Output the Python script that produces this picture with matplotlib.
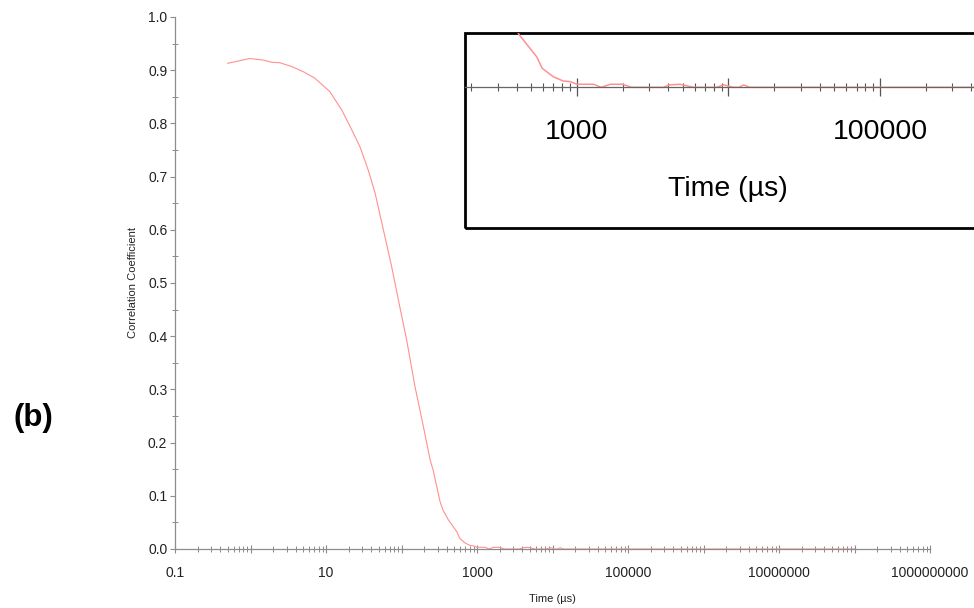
import numpy as np
import matplotlib.pyplot as plt
from matplotlib.ticker import LogLocator, FuncFormatter, MultipleLocator, NullFormatter
from matplotlib.patches import Rectangle

plt.switch_backend('agg')
plt.rcParams['font.family'] = ['Liberation Sans', 'DejaVu Sans']

# correlation curve, time in microseconds
time_us = [0.5, 0.98, 1.48, 1.9, 2.45, 3.5, 5.2, 7.1, 11.2, 16.2, 21.9, 28.2, 36.3,
           44.7, 57.5, 74, 95, 117, 151, 195, 240, 263, 324, 355, 417, 543, 589,
           700, 813, 902, 1000, 1288, 1445, 1660, 1995, 2291, 3715, 4074, 4786,
           5888, 8318, 9333, 10715, 11749, 12589, 13804, 1e8]
corr = [0.913, 0.922, 0.919, 0.915, 0.914, 0.907, 0.896, 0.885, 0.860, 0.825, 0.788,
        0.756, 0.712, 0.669, 0.600, 0.531, 0.455, 0.393, 0.305, 0.230, 0.167, 0.148,
        0.089, 0.073, 0.055, 0.032, 0.020, 0.011, 0.0066, 0.006, 0.0032, 0.0032, 0.0,
        0.0032, 0.0032, 0.0, 0.0, 0.0025, 0.0032, 0.0, 0.0, 0.0025, 0.0, 0.0, 0.0025,
        0.0, 0.0]

line_color = '#ff9090'
axis_color = '#8c8c8c'
text_color = '#222222'


def odd_decades(x, pos):
    e = int(round(np.log10(x)))
    if e % 2 != 1:
        return ''
    if e < 0:
        return '0.1'
    return '%d' % round(x)


W, H = 974, 608
fig = plt.figure(figsize=(W / 100, H / 100), dpi=100)

# main axes
ax = fig.add_axes([175 / W, 1 - 549 / H, (930 - 175) / W, (549 - 17) / H])
ax.plot(time_us, corr, color=line_color, lw=0.8)
ax.set_xscale('log')
ax.set_xlim(0.1, 1e9)
ax.set_ylim(0, 1.0)
for s in ['top', 'right']:
    ax.spines[s].set_visible(False)
for s in ['left', 'bottom']:
    ax.spines[s].set_color(axis_color)
    ax.spines[s].set_linewidth(0.9)

ax.xaxis.set_major_locator(LogLocator(base=10, numticks=20))
ax.xaxis.set_minor_locator(LogLocator(base=10, subs=np.arange(2, 10), numticks=20))
ax.xaxis.set_major_formatter(FuncFormatter(odd_decades))
ax.xaxis.set_minor_formatter(NullFormatter())
ax.yaxis.set_major_locator(MultipleLocator(0.1))
ax.yaxis.set_minor_locator(MultipleLocator(0.05))
ax.yaxis.set_major_formatter(FuncFormatter(lambda v, p: '%.1f' % v))

ax.tick_params(axis='x', which='major', direction='inout', length=6, width=0.8,
               color=axis_color, labelsize=10, labelcolor=text_color, pad=9)
ax.tick_params(axis='x', which='minor', direction='inout', length=4, width=0.7,
               color=axis_color)
ax.tick_params(axis='y', which='major', direction='out', length=3.5, width=0.8,
               color=axis_color, labelsize=10, labelcolor=text_color, pad=2)
ax.tick_params(axis='y', which='minor', direction='inout', length=5, width=0.7,
               color=axis_color)

ax.set_xlabel('Time (µs)', fontsize=8, color=text_color, labelpad=10)
ax.set_ylabel('Correlation Coefficient', fontsize=8, color=text_color, labelpad=7)

fig.text(33 / W, 1 - 418 / H, '(b)', fontsize=22.5, fontweight='bold',
         ha='center', va='center', color='black')

# zoomed inset near the baseline
ax_in = fig.add_axes([465 / W, 1 - 228 / H, (991 - 465) / W, (228 - 33) / H])
ax_in.plot(time_us, corr, color=line_color, lw=1.1)
ax_in.set_xscale('log')
ax_in.set_xlim(10 ** 2.261, 10 ** (3 + (991 - 577) / 151.5))
ax_in.set_ylim(-(228 - 87.3) / 950, (87.3 - 33) / 950)
for s in ['top', 'right', 'left']:
    ax_in.spines[s].set_visible(False)
ax_in.spines['bottom'].set_position(('data', 0))
ax_in.spines['bottom'].set_color('#666666')
ax_in.spines['bottom'].set_linewidth(0.9)
ax_in.set_yticks([])
ax_in.xaxis.set_major_locator(LogLocator(base=10, numticks=20))
ax_in.xaxis.set_minor_locator(LogLocator(base=10, subs=np.arange(2, 10), numticks=20))
ax_in.xaxis.set_major_formatter(FuncFormatter(odd_decades))
ax_in.xaxis.set_minor_formatter(NullFormatter())
ax_in.tick_params(axis='x', which='major', direction='inout', length=13, width=0.9,
                  color='#555555', labelsize=20.5, labelcolor='black', pad=16)
ax_in.tick_params(axis='x', which='minor', direction='inout', length=6, width=0.8,
                  color='#555555')
ax_in.set_xlabel('Time (µs)', fontsize=20.5, color='black', labelpad=23)
ax_in.add_patch(Rectangle((0, 0), 1, 1, transform=ax_in.transAxes, fill=False,
                          lw=2, ec='black', clip_on=False))

fig.savefig('out.png', dpi=100)
